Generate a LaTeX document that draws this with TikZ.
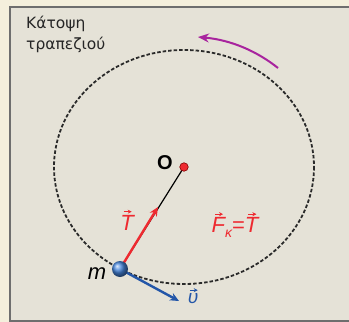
\documentclass[tikz,border=0pt]{standalone}
\usepackage{fontspec}
\setmainfont{DejaVu Sans}
\newfontfamily\lsans{Liberation Sans}
\usetikzlibrary{arrows.meta,shadings}
\definecolor{outerbg}{HTML}{F4EFDC}
\definecolor{innerbg}{HTML}{E5E2D7}
\definecolor{framecol}{HTML}{6E6E6E}
\definecolor{dashcol}{HTML}{2A2A2A}
\definecolor{vred}{HTML}{EE2A30}
\definecolor{vblue}{HTML}{2356A8}
\definecolor{vpurple}{HTML}{A8249E}
\definecolor{ballblue}{HTML}{4585DD}
\newcommand{\vsym}[1]{\setbox0\hbox{\itshape #1}\rlap{\hbox to \wd0{\hss\raisebox{\dimexpr\ht0+1.5pt\relax}{\tikz\draw[line width=1pt,-{Stealth[length=4pt,width=4pt]}] (0pt,0pt) -- (8pt,0pt);}\hskip-1.5pt\hss}}\box0}
\tikzset{
  orbit/.style={draw=dashcol, line width=1.8pt, dash pattern=on 3.5pt off 2pt},
  vecarrow/.style={line width=2.4pt, -{Stealth[length=9pt,width=8pt]}},
  lbl/.style={inner sep=0pt, font=\lsans\fontsize{22}{24}\selectfont},
}
\begin{document}
\begin{tikzpicture}[x=1pt,y=-1pt]
\useasboundingbox (0,0) rectangle (349,322);
\fill[outerbg] (0,0) rectangle (349,322);
\fill[innerbg] (10,7) rectangle (349,321);
\draw[framecol, line width=2pt] (349,7) -- (10,7) -- (10,321) -- (349,321);
% title
\node[anchor=north west, align=left, inner sep=0pt, font=\fontsize{15.5}{20.5}\selectfont, text=black!85] (title) at (26,16) {Κάτοψη\\τραπεζιού};
% orbit
\coordinate (Oc) at (184,167);
\path[orbit] (Oc) ellipse [x radius=130, y radius=117];
% coordinates
\coordinate (mc) at (120,269);
\coordinate (Ttip) at (158,207);
\coordinate (vtip) at (179,301);
\coordinate (ps) at (278,68);
\coordinate (pe) at (198,37);
% rotation arrow
\draw[vpurple, line width=2pt, -{Stealth[length=11pt,width=9pt]}] (ps) .. controls (258,52) and (232,40) .. (pe);
% string
\draw[black, line width=1.2pt] (mc) -- (Oc);
% vectors
\draw[vred, vecarrow] (mc) -- (Ttip);
\draw[vblue, vecarrow] (mc) -- (vtip);
% bodies
\node[circle, inner sep=0pt, minimum size=16pt, shading=ball, ball color=ballblue] (ball) at (mc) {};
\node[circle, inner sep=0pt, minimum size=8.5pt, fill=vred, draw=red!50!black, line width=0.6pt] (O) at (Oc) {};
% labels
\node[inner sep=0pt, font=\lsans\bfseries\fontsize{20}{22}\selectfont] (Olbl) at (165,163) {O};
\node[lbl] (mlbl) at (97,274) {\itshape m};
\node[lbl, text=vred] (Tlbl) at (127,220) {\vsym{T}};
\node[lbl, text=vred] (Flbl) at (235,225) {\vsym{F}\raisebox{-5pt}{\fontsize{14}{14}\selectfont\itshape κ}=\vsym{T}};
\node[lbl, text=vblue, font=\lsans\fontsize{19}{21}\selectfont] (vlbl) at (193,296) {\vsym{υ}};
\end{tikzpicture}
\end{document}
